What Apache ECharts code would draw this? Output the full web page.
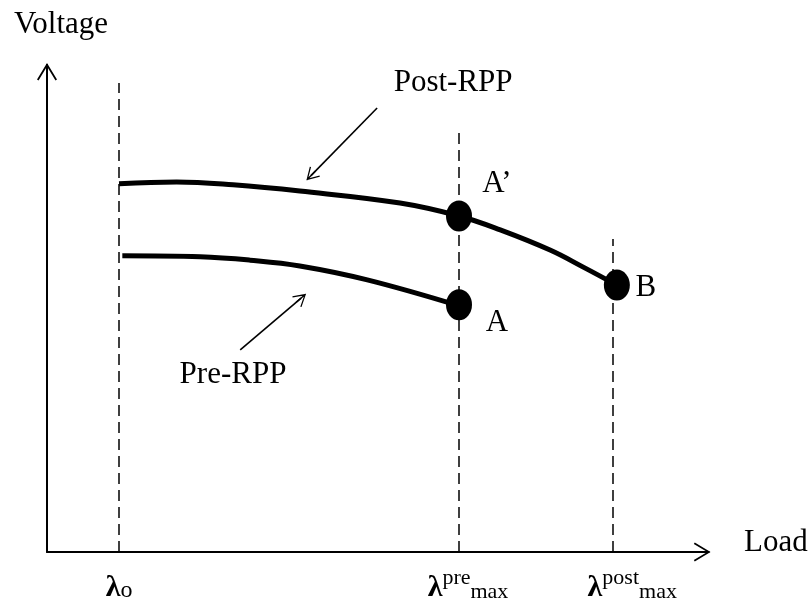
<!DOCTYPE html>
<html><head><meta charset="utf-8">
<script src="https://cdn.jsdelivr.net/npm/echarts@6/dist/echarts.min.js"></script>
<style>html,body{margin:0;padding:0;background:#fff}#c{width:811px;height:600px}</style>
</head><body><div id="c"></div>
<script>
// ---- data (arbitrary load / voltage units) ----
const loadMarks = [1.10, 6.29, 8.63];          // λo, λpre_max, λpost_max
const loadMarkSup = ['', 'pre', 'post'];
const loadMarkSub = ['o', 'max', 'max'];
const dashTops = [9.77, 8.75, 6.52];
const postLoad = [1.10, 1.98, 2.84, 3.86, 5.39, 6.29, 6.92, 7.68, 8.18, 8.70];
const postVoltage = [7.67, 7.71, 7.65, 7.52, 7.27, 7.00, 6.71, 6.29, 5.94, 5.56];
const preLoad = [1.15, 2.34, 3.10, 3.86, 4.89, 6.29];
const preVoltage = [6.17, 6.15, 6.08, 5.96, 5.67, 5.13];
const pointNames = ['A\u2019', 'A', 'B'];
const pointLoad = [6.29, 6.29, 8.70];
const pointVoltage = [7.00, 5.15, 5.56];
const curveNames = ['Post-RPP', 'Pre-RPP'];
const arrowFrom = [[5.04, 9.25], [2.95, 4.21]];
const arrowTo = [[4.03, 7.84], [3.88, 5.29]];

const FONT = '"Liberation Serif", "Times New Roman", serif';
const chevron = 'path://M10,0 L20,16.6 L18.5,17.6 L10,3.4 L1.5,17.6 L0,16.6 Z M9,1 L11,1 L11,18 L9,18 Z';
const zip = (a, b) => a.map((v, i) => [v, b[i]]);

const chart = echarts.init(document.getElementById('c'), null, {renderer: 'canvas'});
const labelOffsets = [[38, -32], [38, 18], [29, 3]];
const spacer = [0, 18, 40];

chart.setOption({
  animation: false,
  backgroundColor: '#fff',
  grid: {left: 47, right: 109, top: 72, bottom: 48, containLabel: false, outerBoundsMode: 'none'},
  xAxis: {
    type: 'value', min: 0, max: 10,
    splitLine: {show: false}, axisTick: {show: false},
    axisLine: {show: true, lineStyle: {color: '#000', width: 2}, symbol: ['none', chevron], symbolSize: [19, 18]},
    name: 'Load', nameLocation: 'end', nameGap: 42,
    nameTextStyle: {fontFamily: FONT, fontSize: 31, color: '#000', lineHeight: 18, verticalAlign: 'bottom'},
    axisLabel: {
      show: true, customValues: loadMarks, margin: 15, color: '#000', hideOverlap: false,
      formatter: function (v, i) {
        let idx = loadMarks.indexOf(v); if (idx < 0) idx = i;
        let s = '';
        if (spacer[idx]) s += '{w' + idx + '|}';
        s += '{l|\u03bb}';
        if (loadMarkSup[idx]) s += '{p|' + loadMarkSup[idx] + '}{m|' + loadMarkSub[idx] + '}';
        else s += '{s|' + loadMarkSub[idx] + '}';
        return s;
      },
      rich: {
        l: {fontFamily: FONT, fontWeight: 'bold', fontSize: 30, lineHeight: 36, verticalAlign: 'bottom', color: '#000'},
        p: {fontFamily: FONT, fontSize: 22, lineHeight: 16, verticalAlign: 'top', color: '#000'},
        m: {fontFamily: FONT, fontSize: 22, lineHeight: 30, verticalAlign: 'bottom', color: '#000'},
        s: {fontFamily: FONT, fontSize: 24, lineHeight: 30, verticalAlign: 'bottom', color: '#000'},
        w1: {width: 18}, w2: {width: 40}
      }
    }
  },
  yAxis: {
    type: 'value', min: 0, max: 10,
    splitLine: {show: false}, axisTick: {show: false}, axisLabel: {show: false},
    axisLine: {show: true, lineStyle: {color: '#000', width: 2}, symbol: ['none', chevron], symbolSize: [20, 18]},
    name: 'Voltage', nameLocation: 'end', nameGap: 32,
    nameTextStyle: {fontFamily: FONT, fontSize: 31, color: '#000', lineHeight: 30, padding: [0, 0, 0, 28]}
  },
  series: [
    {
      name: curveNames[0], type: 'line', data: zip(postLoad, postVoltage), smooth: 0.4,
      symbol: 'none', lineStyle: {color: '#000', width: 5}, z: 3
    },
    {
      name: curveNames[1], type: 'line', data: zip(preLoad, preVoltage), smooth: 0.4,
      symbol: 'none', lineStyle: {color: '#000', width: 5}, z: 3
    },
    {
      name: 'points', type: 'scatter', z: 5,
      symbol: 'circle', symbolSize: [26, 31], itemStyle: {color: '#000', opacity: 1},
      emphasis: {disabled: true},
      data: pointNames.map((n, i) => ({
        name: n, value: [pointLoad[i], pointVoltage[i]],
        label: {show: true, formatter: n, position: 'inside', offset: labelOffsets[i],
          color: '#000', fontFamily: FONT, fontSize: 31}
      }))
    },
    {
      name: 'guides', type: 'line', data: [], z: 2,
      markLine: {
        silent: true, animation: false,
        label: {show: false},
        data: [
          ...loadMarks.map((x, i) => [
            {coord: [x, 0], symbol: 'none', lineStyle: {color: '#000', width: 1.5, type: [11, 6]}},
            {coord: [x, dashTops[i]], symbol: 'none'}
          ]),
          ...arrowFrom.map((f, i) => [
            {coord: f, symbol: 'none', lineStyle: {color: '#000', width: 1.6, type: 'solid'}},
            {coord: arrowTo[i], symbol: chevron, symbolSize: [14, 13]}
          ])
        ]
      },
      markPoint: {
        silent: true, animation: false, symbol: 'circle', symbolSize: 0,
        label: {show: true, position: 'inside', color: '#000', fontFamily: FONT, fontSize: 31},
        data: [
          {coord: [6.20, 9.77], label: {formatter: curveNames[0]}},
          {coord: [2.84, 3.69], label: {formatter: curveNames[1]}}
        ]
      }
    }
  ]
});
</script>
</body></html>
